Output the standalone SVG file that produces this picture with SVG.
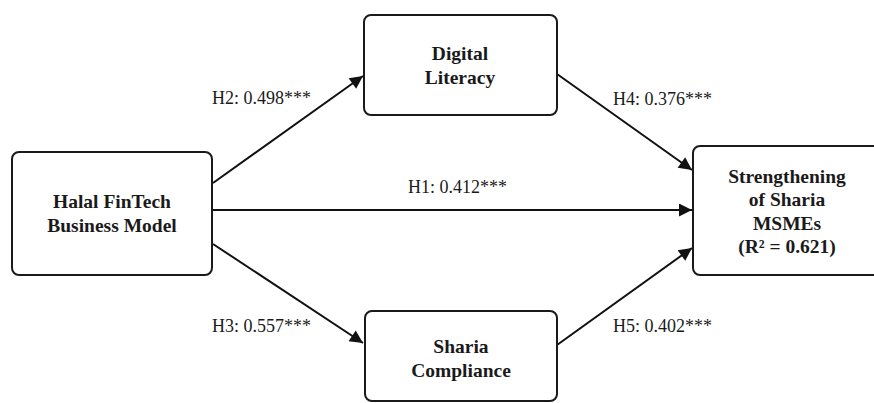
<svg xmlns="http://www.w3.org/2000/svg" width="874" height="403" viewBox="0 0 874 403">
<style>
.box{fill:#fff;stroke:#1a1a1a;stroke-width:2}
.nt{font-family:"Liberation Serif","Times New Roman",serif;font-weight:bold;font-size:19.5px;fill:#1a1a1a;text-anchor:middle}
.lb{font-family:"Liberation Serif","Times New Roman",serif;font-size:18px;fill:#1a1a1a}
.ed{stroke:#111;stroke-width:2;fill:none;marker-end:url(#ah)}
</style>
<defs>
<marker id="ah" viewBox="0 0 10 10" refX="10" refY="5" markerWidth="7" markerHeight="6.5" markerUnits="strokeWidth" orient="auto">
<path d="M0,0 L10,5 L0,10 z" fill="#111"/>
</marker>
</defs>
<rect width="874" height="403" fill="#fff"/>
<g id="connectors">
<line class="ed" x1="213" y1="183" x2="363" y2="76"/>
<line class="ed" x1="557" y1="74" x2="692" y2="170"/>
<line class="ed" x1="213" y1="210" x2="692" y2="210"/>
<line class="ed" x1="213" y1="244" x2="363" y2="343"/>
<line class="ed" x1="557" y1="345" x2="692" y2="248"/>
<text class="lb" x="212" y="104">H2: 0.498***</text>
<text class="lb" x="613" y="105">H4: 0.376***</text>
<text class="lb" x="408" y="193">H1: 0.412***</text>
<text class="lb" x="212" y="332">H3: 0.557***</text>
<text class="lb" x="613" y="332">H5: 0.402***</text>
</g>
<g id="halal">
<rect class="box" x="12" y="152" width="200" height="123" rx="7"/>
<text class="nt" x="112" y="208">Halal FinTech</text>
<text class="nt" x="112" y="232">Business Model</text>
</g>
<g id="digital">
<rect class="box" x="364" y="15" width="193" height="100" rx="7"/>
<text class="nt" x="460" y="60">Digital</text>
<text class="nt" x="460" y="84">Literacy</text>
</g>
<g id="sharia">
<rect class="box" x="365" y="311" width="192" height="90" rx="7"/>
<text class="nt" x="461" y="353">Sharia</text>
<text class="nt" x="461" y="377">Compliance</text>
</g>
<g id="msmes">
<rect class="box" x="693" y="146" width="190" height="129" rx="7"/>
<text class="nt" x="787" y="183">Strengthening</text>
<text class="nt" x="787" y="206">of Sharia</text>
<text class="nt" x="787" y="230">MSMEs</text>
<text class="nt" x="787" y="253">(R² = 0.621)</text>
</g>
</svg>
